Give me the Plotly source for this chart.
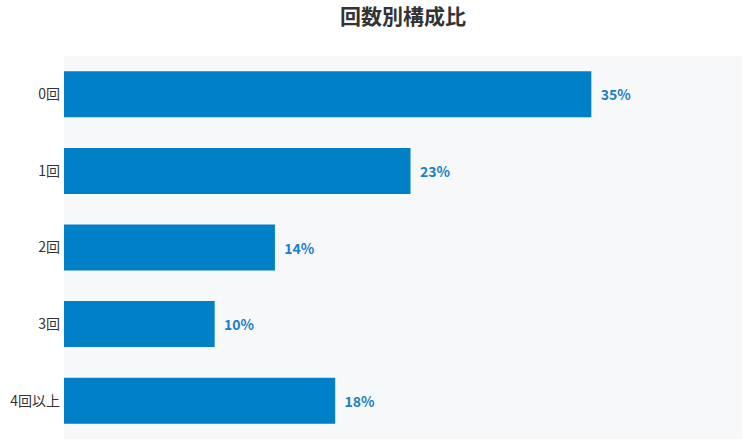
import plotly.graph_objects as go

categories = ['0回', '1回', '2回', '3回', '4回以上']
shares = [35, 23, 14, 10, 18]
x_max = 45

font_family = 'Noto Sans CJK JP'
bar_color = '#0080c6'

fig = go.Figure()
fig.add_trace(go.Bar(
    y=categories, x=shares, orientation='h',
    marker=dict(color=bar_color, line=dict(width=0)),
    text=[f'{v}%' for v in shares],
    texttemplate='  %{text}',
    textposition='outside',
    textfont=dict(family=font_family, size=14, color='#1a7fc4', weight='bold'),
    cliponaxis=False,
    hoverinfo='skip',
))

fig.update_layout(
    width=750, height=447,
    margin=dict(l=64, r=8, t=56, b=8),
    paper_bgcolor='white',
    plot_bgcolor='#f7f8fa',
    bargap=0.4,
    showlegend=False,
    font=dict(family=font_family, size=14, color='#333333'),
    title=dict(text='<b>回数別構成比</b>', x=0.5, xref='paper', xanchor='center',
               y=0.963, yanchor='middle', font=dict(size=21, color='#333333')),
)
fig.update_xaxes(range=[0, x_max], visible=False, showgrid=False, zeroline=False)
fig.update_yaxes(autorange='reversed', showgrid=False, zeroline=False, ticks='',
                 automargin=False, ticklabelstandoff=3,
                 tickfont=dict(size=14, color='#333333'))

# drop the default body margin so the chart sits at the page corner
fig.write_html('out.html', config={'displayModeBar': False},
               post_script="document.body.style.margin='0';")
